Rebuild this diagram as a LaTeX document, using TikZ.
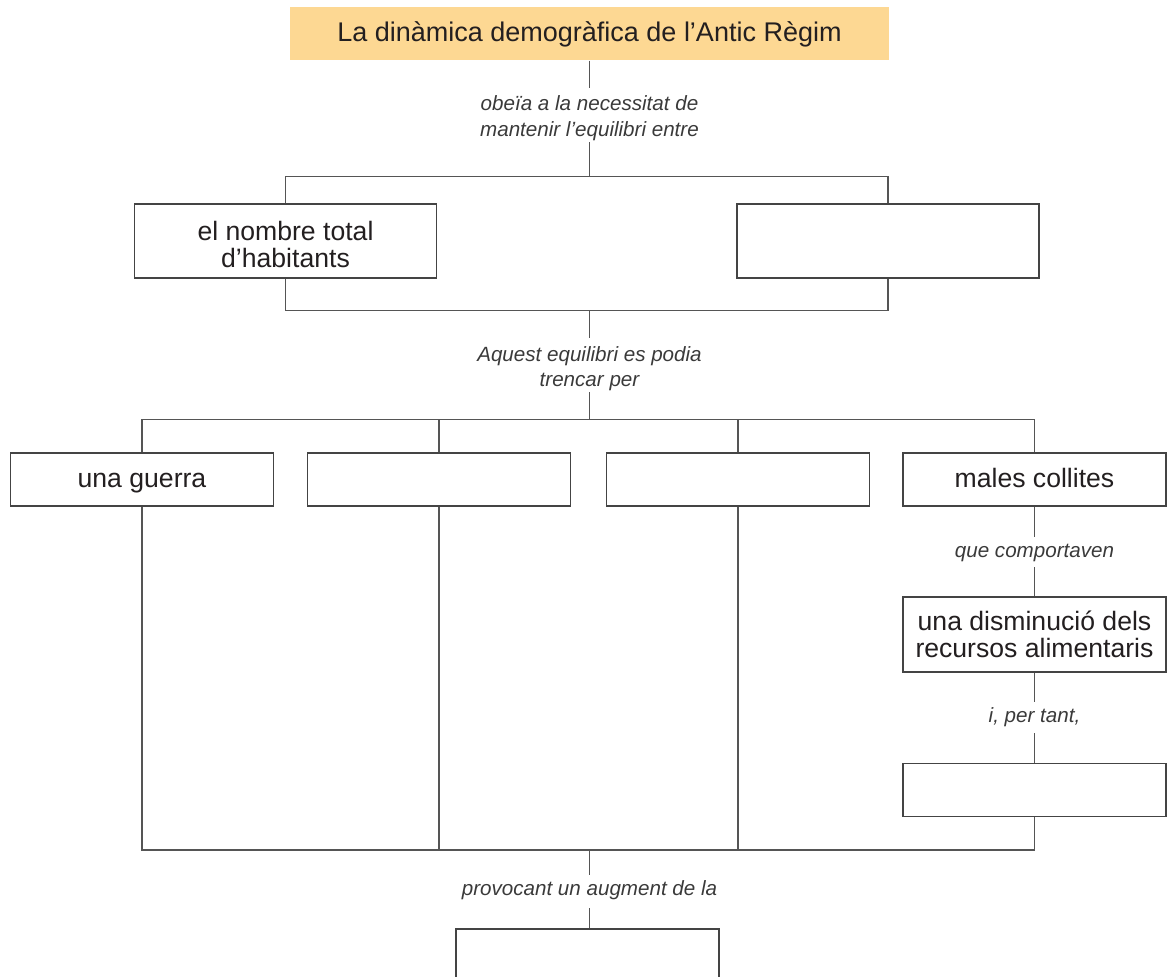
\documentclass[tikz,border=0pt]{standalone}
\usepackage{fontspec}
\setmainfont{Liberation Sans}
\definecolor{titlefill}{HTML}{FDD893}
\definecolor{txtc}{HTML}{231F20}
\definecolor{lblc}{HTML}{3A3A3A}
\definecolor{lnc}{HTML}{555555}
\definecolor{bdc}{HTML}{444444}
\newcommand{\upstrut}[1]{\rule{0pt}{#1}}
\begin{document}
\begin{tikzpicture}[x=0.5pt,y=-0.5pt,
 conn/.style={draw=lnc,line width=0.6pt},
 box/.style={draw=bdc,line width=0.6pt,fill=white,inner sep=0pt,align=center,text=txtc,
   font=\fontsize{13.3}{13.5}\selectfont},
 oneline/.style={text height=10pt,text depth=2.5pt},
 wbox/.style={box,minimum width=151pt,minimum height=37pt},
 rbox/.style={box,oneline,minimum width=131.5pt,minimum height=26.5pt},
 lbl/.style={inner sep=0pt,align=center,text=lblc,
   font=\fontsize{10.3}{12.8}\selectfont\itshape},
 lblone/.style={lbl,text height=7.5pt,text depth=2.5pt},
]
\useasboundingbox (0,0) rectangle (1168,976);
\clip (0,0) rectangle (1168,976);

\node[box,oneline,fill=titlefill,draw=none,minimum width=299.5pt,minimum height=26.5pt,font=\fontsize{13.5}{14}\selectfont] (title) at (589.5,33.5) {La dinàmica demogràfica de l’Antic Règim};

\node[lbl,minimum height=27pt] (l1) at (589.5,115) {\upstrut{10.8pt}obeïa a la necessitat de\\mantenir l’equilibri entre};
\coordinate (c1) at (589.5,177);

\node[wbox] (bA) at (285.5,241) {\upstrut{12.8pt}el nombre total\\d’habitants};
\node[wbox] (bB) at (888,241) {};
\coordinate (c2) at (589.5,310);

\node[lbl,minimum height=27pt] (l2) at (589.5,365) {\upstrut{11.2pt}Aquest equilibri es podia\\trencar per};
\coordinate (c3) at (589.5,420);

\node[rbox] (r1) at (142,479.5) {una guerra};
\node[rbox] (r2) at (439,479.5) {};
\node[rbox] (r3) at (738,479.5) {};
\node[rbox] (r4) at (1034.5,479.5) {males collites};

\node[lblone,minimum height=15pt] (l3) at (1034.5,552) {que comportaven};
\node[box,minimum width=131.5pt,minimum height=37.5pt] (r5) at (1034.5,634.5) {una disminució dels\\recursos alimentaris};
\node[lblone,minimum height=15.5pt] (l4) at (1034.5,717.5) {i, per tant,};
\node[rbox] (r6) at (1034.5,790) {};

\coordinate (m) at (589.5,850);
\node[lblone,minimum height=16.5pt,text height=7pt,text depth=3.5pt] (l5) at (589.5,891.5) {provocant un augment de la};
\node[box,minimum width=131.5pt,minimum height=41pt] (bot) at (587.5,970) {};

\draw[conn] (title.south) -- (l1.north);
\draw[conn] (l1.south) -- (c1);
\draw[conn] (bA.north) -- ++(0,-27) -| (bB.north);
\draw[conn] (bA.south) -- ++(0,32) -| (bB.south);
\draw[conn] (c2) -- (l2.north);
\draw[conn] (l2.south) -- (c3);
\draw[conn] (r1.north) -- ++(0,-33) -| (r4.north);
\draw[conn] (r2.north) -- ++(0,-33);
\draw[conn] (r3.north) -- ++(0,-33);
\draw[conn] (r4.south) -- (l3.north);
\draw[conn] (l3.south) -- (r5.north);
\draw[conn] (r5.south) -- (l4.north);
\draw[conn] (l4.south) -- (r6.north);
\draw[conn] (r1.south) |- (m) -| (r6.south);
\draw[conn] (r2.south) -- (r2.south |- m);
\draw[conn] (r3.south) -- (r3.south |- m);
\draw[conn] (m) -- (l5.north);
\draw[conn] (l5.south) -- (l5.south |- bot.north);
\end{tikzpicture}
\end{document}
